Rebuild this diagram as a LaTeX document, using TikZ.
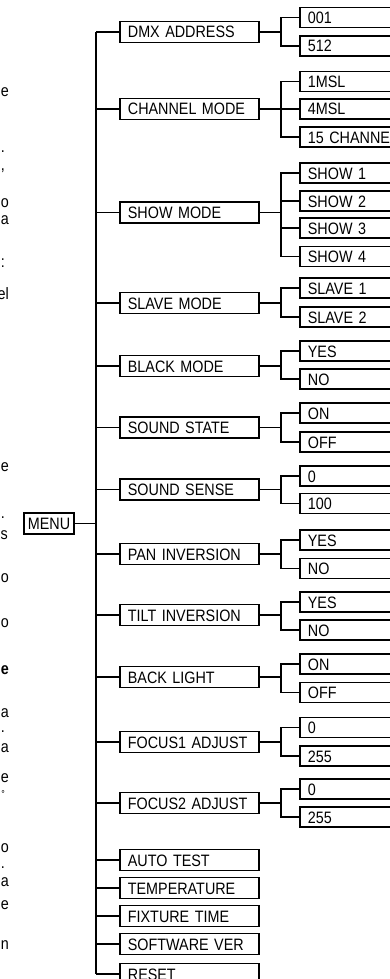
\documentclass[tikz,border=0pt]{standalone}
\usepackage{fontspec}
\setmainfont{Liberation Sans}[FakeStretch=0.87]
\tikzset{
  mainbox/.style={draw, line width=1.8pt, anchor=west, minimum height=21pt, text width=123pt, inner xsep=8pt, inner ysep=0pt, text height=12pt, text depth=0pt, align=left},
  subbox/.style={mainbox, minimum height=20pt, text width=94pt},
  menubox/.style={draw, line width=1.8pt, anchor=west, minimum height=21pt, inner xsep=4pt, inner ysep=0pt, text height=12pt, text depth=0pt},
  frag/.style={anchor=base east, inner sep=0pt},
  link/.style={line width=1.8pt}
}

\begin{document}
\begin{tikzpicture}[x=1pt, y=-1pt, font=\fontsize{16.5}{19}\selectfont]
\useasboundingbox (0,0) rectangle (390,979);

\node[frag] (f1) at (9,97) {e};
\node[frag] (f2) at (5,153) {.};
\node[frag] (f3) at (5,170) {,};
\node[frag] (f4) at (9,207) {o};
\node[frag] (f5) at (9,224) {a};
\node[frag] (f6) at (5,267) {:};
\node[frag] (f7) at (9,299) {el};
\node[frag] (f8) at (9,471) {e};
\node[frag] (f9) at (5,518) {.};
\node[frag] (f10) at (8,539) {s};
\node[frag] (f11) at (9,582) {o};
\node[frag] (f12) at (9,627) {o};
\node[frag] (f13) at (9,674) {\bfseries e};
\node[frag] (f14) at (9,717) {a};
\node[frag] (f15) at (5,732) {.};
\node[frag] (f16) at (9,752) {a};
\node[frag] (f17) at (9,782) {e};
\node[frag] (f18) at (5,797) {\fontsize{10}{12}\selectfont °};
\node[frag] (f19) at (9,852) {o};
\node[frag] (f20) at (5,868) {.};
\node[frag] (f21) at (9,886) {a};
\node[frag] (f22) at (9,909) {e};
\node[frag] (f23) at (9,949) {n};

\node[menubox] (menu) at (23,523.5) {MENU};

\node[mainbox] (dmx) at (119,32) {DMX ADDRESS};
\node[mainbox] (chan) at (119,109) {CHANNEL MODE};
\node[mainbox] (show) at (119,212.5) {SHOW MODE};
\node[mainbox] (slave) at (119,303) {SLAVE MODE};
\node[mainbox] (black) at (119,366) {BLACK MODE};
\node[mainbox] (sstate) at (119,427.5) {SOUND STATE};
\node[mainbox] (ssense) at (119,489.5) {SOUND SENSE};
\node[mainbox] (pan) at (119,554) {PAN INVERSION};
\node[mainbox] (tilt) at (119,615) {TILT INVERSION};
\node[mainbox] (back) at (119,677) {BACK LIGHT};
\node[mainbox] (focusa) at (119,742) {FOCUS1 ADJUST};
\node[mainbox] (focusb) at (119,803) {FOCUS2 ADJUST};
\node[mainbox] (auto) at (119,860) {AUTO TEST};
\node[mainbox] (temp) at (119,888) {TEMPERATURE};
\node[mainbox] (fixt) at (119,916) {FIXTURE TIME};
\node[mainbox] (soft) at (119,944) {SOFTWARE VER};
\node[mainbox] (reset) at (119,974) {RESET};

\node[subbox] (dmx1) at (299,17.5) {001};
\node[subbox] (dmx2) at (299,46) {512};
\node[subbox] (chan1) at (299,81.5) {1MSL};
\node[subbox] (chan2) at (299,109) {4MSL};
\node[subbox] (chan3) at (299,137) {15 CHANNEL};
\node[subbox] (show1) at (299,173) {SHOW 1};
\node[subbox] (show2) at (299,201) {SHOW 2};
\node[subbox] (show3) at (299,228) {SHOW 3};
\node[subbox] (show4) at (299,256.5) {SHOW 4};
\node[subbox] (slave1) at (299,288) {SLAVE 1};
\node[subbox] (slave2) at (299,317) {SLAVE 2};
\node[subbox] (black1) at (299,351) {YES};
\node[subbox] (black2) at (299,379) {NO};
\node[subbox] (sstate1) at (299,413) {ON};
\node[subbox] (sstate2) at (299,442) {OFF};
\node[subbox] (ssense1) at (299,476) {0};
\node[subbox] (ssense2) at (299,503.5) {100};
\node[subbox] (pan1) at (299,540) {YES};
\node[subbox] (pan2) at (299,568.5) {NO};
\node[subbox] (tilt1) at (299,602) {YES};
\node[subbox] (tilt2) at (299,630) {NO};
\node[subbox] (back1) at (299,664) {ON};
\node[subbox] (back2) at (299,692.5) {OFF};
\node[subbox] (focusa1) at (299,727.5) {0};
\node[subbox] (focusa2) at (299,756) {255};
\node[subbox] (focusb1) at (299,789) {0};
\node[subbox] (focusb2) at (299,817) {255};

\draw[link] (dmx.west) -- ++(-23,0) coordinate (bustop);
\draw[link] (reset.west) -- ++(-23,0) coordinate (busbot);
\draw[link] (bustop) -- (busbot);
\draw[link] (menu.east) -- (menu.east -| bustop);
\draw[link] (chan.west) -- ++(-23,0);
\draw[link] (show.west) -- ++(-23,0);
\draw[link] (slave.west) -- ++(-23,0);
\draw[link] (black.west) -- ++(-23,0);
\draw[link] (sstate.west) -- ++(-23,0);
\draw[link] (ssense.west) -- ++(-23,0);
\draw[link] (pan.west) -- ++(-23,0);
\draw[link] (tilt.west) -- ++(-23,0);
\draw[link] (back.west) -- ++(-23,0);
\draw[link] (focusa.west) -- ++(-23,0);
\draw[link] (focusb.west) -- ++(-23,0);
\draw[link] (auto.west) -- ++(-23,0);
\draw[link] (temp.west) -- ++(-23,0);
\draw[link] (fixt.west) -- ++(-23,0);
\draw[link] (soft.west) -- ++(-23,0);

\draw[link] (dmx.east) -- ++(21,0) |- (dmx1.west);
\draw[link] (dmx.east) -- ++(21,0) |- (dmx2.west);
\draw[link] (chan.east) -- ++(21,0) |- (chan1.west);
\draw[link] (chan.east) -- (chan2.west);
\draw[link] (chan.east) -- ++(21,0) |- (chan3.west);
\draw[link] (show.east) -- ++(21,0) |- (show1.west);
\draw[link] (show.east) -- ++(21,0) |- (show2.west);
\draw[link] (show.east) -- ++(21,0) |- (show3.west);
\draw[link] (show.east) -- ++(21,0) |- (show4.west);
\draw[link] (slave.east) -- ++(21,0) |- (slave1.west);
\draw[link] (slave.east) -- ++(21,0) |- (slave2.west);
\draw[link] (black.east) -- ++(21,0) |- (black1.west);
\draw[link] (black.east) -- ++(21,0) |- (black2.west);
\draw[link] (sstate.east) -- ++(21,0) |- (sstate1.west);
\draw[link] (sstate.east) -- ++(21,0) |- (sstate2.west);
\draw[link] (ssense.east) -- ++(21,0) |- (ssense1.west);
\draw[link] (ssense.east) -- ++(21,0) |- (ssense2.west);
\draw[link] (pan.east) -- ++(21,0) |- (pan1.west);
\draw[link] (pan.east) -- ++(21,0) |- (pan2.west);
\draw[link] (tilt.east) -- ++(21,0) |- (tilt1.west);
\draw[link] (tilt.east) -- ++(21,0) |- (tilt2.west);
\draw[link] (back.east) -- ++(21,0) |- (back1.west);
\draw[link] (back.east) -- ++(21,0) |- (back2.west);
\draw[link] (focusa.east) -- ++(21,0) |- (focusa1.west);
\draw[link] (focusa.east) -- ++(21,0) |- (focusa2.west);
\draw[link] (focusb.east) -- ++(21,0) |- (focusb1.west);
\draw[link] (focusb.east) -- ++(21,0) |- (focusb2.west);
\end{tikzpicture}
\end{document}
